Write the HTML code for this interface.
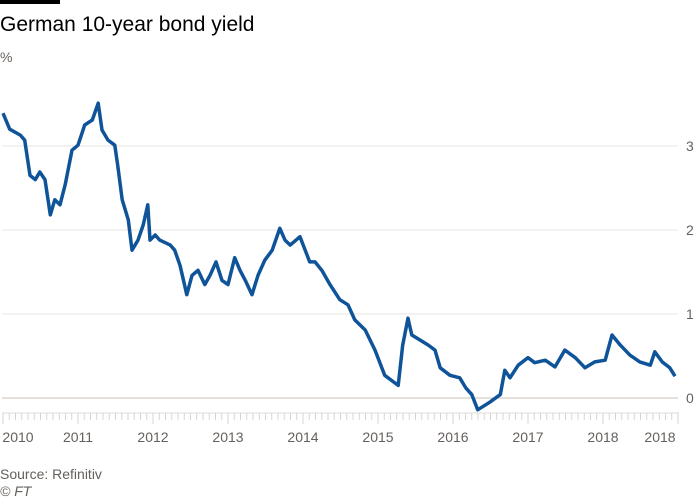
<!DOCTYPE html>
<html><head><meta charset="utf-8"><style>
body{margin:0;background:#fff;font-family:"Liberation Sans",sans-serif;}
#c{position:relative;width:700px;height:500px;overflow:hidden}
</style></head><body>
<div id="c">
<svg id="s" width="700" height="500">
<rect x="0" y="0" width="60" height="4" fill="#000"/>
<text x="0" y="31" font-size="21" fill="#000">German 10-year bond yield</text>
<text x="0" y="62" font-size="14" fill="#66605c">%</text>
<text x="0" y="479" font-size="14" fill="#66605c">Source: Refinitiv</text>
<text x="0" y="496" font-size="14" font-style="italic" fill="#66605c">© FT</text>
<g id="grid"></g><g id="xax"></g><g id="line"></g>
</svg></div>
<script>
const yTicks=[0,1,2,3];
const xLabels=["2010","2011","2012","2013","2014","2015","2016","2017","2018","2018"];
const xLabelYears=[2010.2,2011,2012,2013,2014,2015,2016,2017,2018,2018.76];
const dates=[2010.00,2010.09,2010.23,2010.29,2010.36,2010.43,2010.49,2010.56,2010.63,2010.69,2010.76,2010.83,2010.92,2011.00,2011.09,2011.19,2011.27,2011.32,2011.40,2011.49,2011.53,2011.59,2011.67,2011.72,2011.80,2011.87,2011.93,2011.96,2012.03,2012.09,2012.23,2012.29,2012.36,2012.45,2012.52,2012.60,2012.69,2012.76,2012.84,2012.92,2013.00,2013.09,2013.16,2013.23,2013.32,2013.40,2013.49,2013.59,2013.69,2013.76,2013.83,2013.96,2014.03,2014.09,2014.16,2014.25,2014.36,2014.49,2014.60,2014.69,2014.83,2014.96,2015.09,2015.27,2015.33,2015.40,2015.45,2015.56,2015.67,2015.76,2015.83,2015.96,2016.09,2016.17,2016.25,2016.33,2016.49,2016.63,2016.69,2016.76,2016.87,2017.00,2017.09,2017.23,2017.36,2017.49,2017.63,2017.76,2017.89,2018.03,2018.12,2018.23,2018.36,2018.49,2018.63,2018.69,2018.79,2018.89,2018.96];
const yields=[3.39,3.20,3.13,3.07,2.65,2.60,2.69,2.60,2.18,2.36,2.30,2.54,2.95,3.01,3.25,3.31,3.51,3.19,3.07,3.01,2.77,2.36,2.12,1.76,1.88,2.06,2.30,1.88,1.94,1.88,1.82,1.76,1.58,1.23,1.46,1.52,1.35,1.46,1.62,1.40,1.35,1.67,1.52,1.40,1.23,1.46,1.64,1.76,2.02,1.88,1.82,1.92,1.76,1.62,1.62,1.52,1.35,1.17,1.11,0.93,0.81,0.57,0.27,0.15,0.63,0.95,0.75,0.69,0.63,0.57,0.36,0.27,0.24,0.12,0.04,-0.14,-0.05,0.04,0.33,0.24,0.39,0.48,0.42,0.45,0.37,0.57,0.48,0.36,0.43,0.45,0.75,0.63,0.51,0.43,0.39,0.55,0.43,0.36,0.26];
const NS="http://www.w3.org/2000/svg";
const xS=t=>3+(t-2010)*75;
const yS=v=>398-v*84;
function mk(tag,attrs,parent){const e=document.createElementNS(NS,tag);for(const k in attrs)e.setAttribute(k,attrs[k]);parent.appendChild(e);return e;}
const grid=document.getElementById('grid'),xax=document.getElementById('xax'),lg=document.getElementById('line');
yTicks.forEach(v=>{
 const l=mk('line',{x1:2,x2:678,y1:yS(v),y2:yS(v),stroke:v===0?'#ccc1b7':'#e9e6e2','stroke-width':1},grid);
 
 
 const t=mk('text',{x:686,y:yS(v)+5,'font-size':14,fill:'#66605c'},grid);
 t.textContent=v;
 
 
});
const base=mk('line',{x1:2,x2:679,y1:413,y2:413,stroke:'#ddd','stroke-width':1},xax);


for(let m=0;m<=108;m++){
 const x=xS(2010+m/12); if(x>679)break;
 const t=mk('line',{x1:x,x2:x,y1:413,y2:m%12===0?424:420,stroke:'#d8d4d0','stroke-width':1},xax);
 
 
}
xLabels.forEach((s,i)=>{
 const t=mk('text',{x:xS(xLabelYears[i]),y:442,'font-size':14,fill:'#66605c','text-anchor':'middle'},xax);
 t.textContent=s;
 
 
});
const d=dates.map((t,i)=>(i?'L':'M')+xS(t).toFixed(1)+','+yS(yields[i]).toFixed(1)).join('');
const p=mk('path',{d:d,fill:'none',stroke:'#0f5499','stroke-width':3.5,'stroke-linejoin':'round'},lg);


</script>
</body></html>
